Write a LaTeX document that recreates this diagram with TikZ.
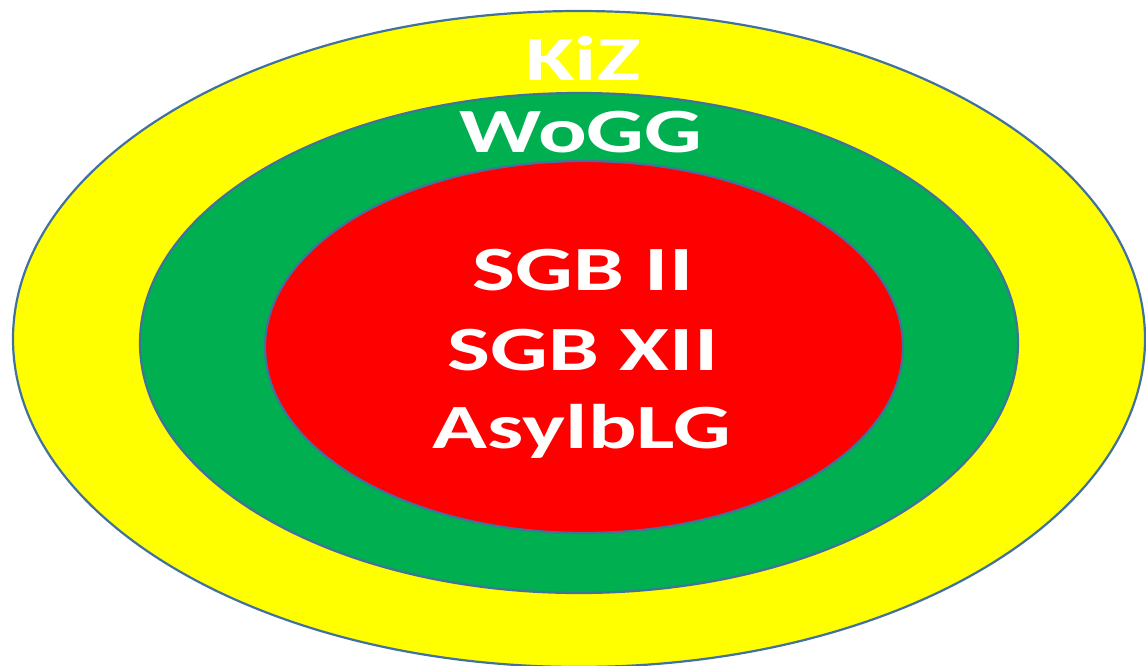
\documentclass[tikz,border=0pt]{standalone}
\usepackage{fontspec}
\setmainfont{Carlito}

\definecolor{ringoutline}{HTML}{41719C}
\definecolor{kizyellow}{HTML}{FFFF00}
\definecolor{wogggreen}{HTML}{00B050}
\definecolor{sgbred}{HTML}{FF0000}

\begin{document}
\begin{tikzpicture}[x=1pt, y=-1pt]

\useasboundingbox (0, 0) rectangle (1146, 665) ;
\clip (0, 0) rectangle (1146, 665) ;

% rings

\tikzstyle{ring} = [line width=2.2pt, draw=ringoutline]

\draw [ring, fill=kizyellow] (579, 339) ellipse [x radius=566, y radius=328] ;
\draw [ring, fill=wogggreen] (579, 343) ellipse [x radius=439, y radius=250] ;
\draw [ring, fill=sgbred] (584, 347) ellipse [x radius=319, y radius=186] ;

% labels

\newcommand\ringtext[1]{\scalebox{1.44}[1]{\fontsize{63}{63}\selectfont\bfseries #1}}
\tikzstyle{ring label} = [anchor=base, text=white, inner sep=0pt]

\node [ring label] (kiz) at (583, 80) {\ringtext{KiZ}} ;
\node [ring label] (wogg) at (581, 152) {\ringtext{WoGG}} ;

\node [ring label] (sgbii) at (583, 290) {\ringtext{SGB II}} ;
\node [ring label] (sgbxii) at (583, 370) {\ringtext{SGB XII}} ;
\node [ring label] (asylblg) at (582, 448) {\ringtext{AsylbLG}} ;

\end{tikzpicture}
\end{document}
